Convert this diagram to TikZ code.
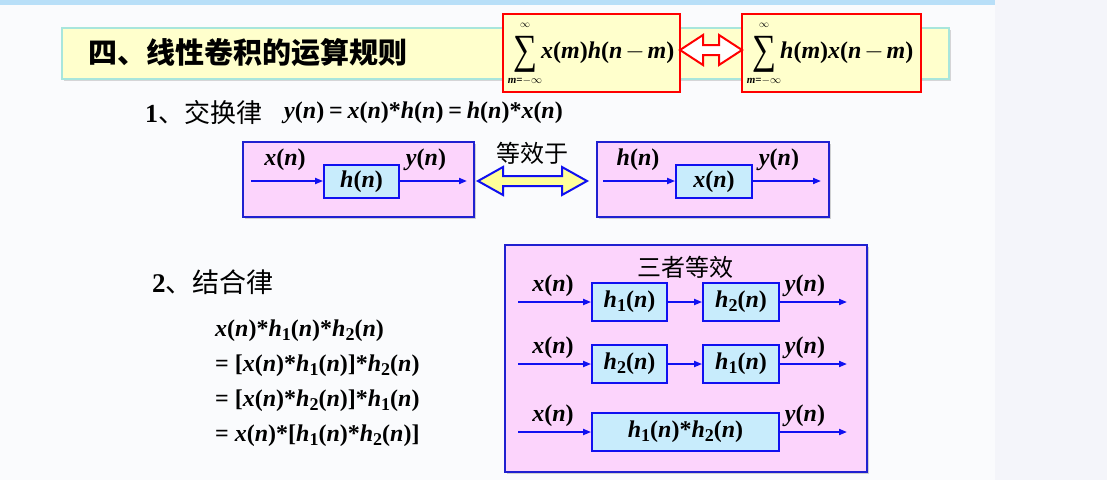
\documentclass[tikz,border=0pt]{standalone}
\usepackage{fontspec}
\setmainfont{Liberation Serif}
\newfontfamily\cjk{Noto Sans CJK SC}
\usetikzlibrary{arrows.meta,shadows}
\definecolor{slidebg}{HTML}{FAFBFD}
\definecolor{sidebg}{HTML}{F4F5FA}
\definecolor{topbar}{HTML}{B8DFF8}
\definecolor{titlefill}{HTML}{FFFFCC}
\definecolor{titleedge}{HTML}{A8E6DC}
\definecolor{pinkbg}{HTML}{FCD4FC}
\definecolor{cyanbg}{HTML}{C8ECFC}
\definecolor{boxedge}{HTML}{2020D0}
\definecolor{sigblue}{HTML}{1010F0}
\definecolor{arrowyellow}{HTML}{FFFF99}
\newcommand\iv[1]{\textit{#1}}
\newcommand\sbs[1]{\raisebox{-0.35ex}{\scalebox{0.75}{#1}}}
\newcommand\bigsum{\resizebox*{24pt}{36pt}{∑}}
\begin{document}
\begin{tikzpicture}[x=1pt,y=-1pt,
  outerbox/.style={draw=boxedge, line width=2pt, fill=pinkbg, inner sep=0pt,
     drop shadow={shadow xshift=1.5pt, shadow yshift=-1.5pt, opacity=0.35}},
  sysbox/.style={draw=sigblue, line width=1.8pt, fill=cyanbg, inner sep=0pt,
     font=\fontsize{24}{26}\selectfont\bfseries},
  redbox/.style={draw=red, line width=2.2pt, fill=titlefill, inner sep=0pt},
  fml/.style={inner sep=0pt, font=\fontsize{24}{26}\selectfont\bfseries},
  lbl/.style={inner sep=0pt, font=\fontsize{24}{26}\selectfont\bfseries},
  cjktxt/.style={inner sep=0pt, font=\fontsize{24}{26}\selectfont\cjk},
  limtxt/.style={inner sep=0pt, font=\fontsize{11}{11}\selectfont\bfseries},
  suptxt/.style={inner sep=0pt, font=\fontsize{10}{10}\selectfont},
  sig/.style={draw=sigblue, line width=1.8pt, -{Triangle[length=8pt,width=6pt]}}
]
\useasboundingbox (0,0) rectangle (1107,480);
% backgrounds
\fill[slidebg] (0,0) rectangle (995,480);
\fill[sidebg] (995,0) rectangle (1107,480);
\fill[topbar] (0,0) rectangle (995,5);

% title bar
\node[draw=titleedge, line width=1.8pt, fill=titlefill, inner sep=0pt,
      minimum width=887pt, minimum height=51pt,
      drop shadow={shadow xshift=2pt, shadow yshift=-2pt, opacity=0.3}] (titlebar) at (505.5,53.5) {};
\node[inner sep=0pt, anchor=west, font=\fontsize{29}{31}\selectfont\cjk\bfseries] (title) at (88,53) {四、线性卷积的运算规则};

% red formula boxes
\node[redbox, minimum width=177pt, minimum height=78pt] (fa) at (591.5,53) {};
\node[redbox, minimum width=179pt, minimum height=78pt] (fb) at (831.5,53) {};
% sums
\node[inner sep=0pt] (suma) at (525,54) {\bigsum};
\node[suptxt] (supa) at (525,25) {$\infty$};
\node[limtxt] (suba) at (525,81) {\iv{m}=$-\infty$};
\node[fml, anchor=west] (exa) at (541,53) {\iv{x}(\iv{m})\iv{h}(\iv{n}\hspace{0.12em}$-$\hspace{0.12em}\iv{m})};
\node[inner sep=0pt] (sumb) at (764,54) {\bigsum};
\node[suptxt] (supb) at (764,25) {$\infty$};
\node[limtxt] (subb) at (764,81) {\iv{m}=$-\infty$};
\node[fml, anchor=west] (exb) at (780,53) {\iv{h}(\iv{m})\iv{x}(\iv{n}\hspace{0.12em}$-$\hspace{0.12em}\iv{m})};
% red double arrow
\draw[red, line width=2pt, fill=white, line join=miter]
  (680,50) -- (703,35) -- (703,45) -- (719,45) -- (719,35) -- (742,50)
  -- (719,65) -- (719,55) -- (703,55) -- (703,65) -- cycle;

% section 1
\node[inner sep=0pt, anchor=west, font=\fontsize{26}{28}\selectfont] (s1) at (145,113)
  {\textbf{1}{\cjk 、交换律}};
\node[fml, anchor=west] (eq1) at (284,113)
  {\iv{y}(\iv{n})\hspace{0.2em}=\hspace{0.2em}\iv{x}(\iv{n})*\iv{h}(\iv{n})\hspace{0.2em}=\hspace{0.2em}\iv{h}(\iv{n})*\iv{x}(\iv{n})};

\node[outerbox, minimum width=231pt, minimum height=75pt] (boxL) at (358.5,179.5) {};
\node[sysbox, minimum width=75pt, minimum height=33pt] (hL) at (361.5,181.5) {\iv{h}(\iv{n})};
\coordinate (inL) at (251,181);
\coordinate (outL) at (467,181);
\draw[sig] (inL) -- (inL -| hL.west);
\draw[sig] (hL.east |- outL) -- (outL);
\node[lbl] (xL) at (285,160) {\iv{x}(\iv{n})};
\node[lbl] (yL) at (426,160) {\iv{y}(\iv{n})};

\node[cjktxt] (eqv) at (532,153) {等效于};
\draw[sigblue, line width=2pt, fill=arrowyellow, line join=miter]
  (478,181) -- (503,167) -- (503,176) -- (562,176) -- (562,167) -- (587,181)
  -- (562,195) -- (562,186) -- (503,186) -- (503,195) -- cycle;

\node[outerbox, minimum width=232pt, minimum height=75pt] (boxR) at (713,179.5) {};
\node[sysbox, minimum width=76pt, minimum height=33pt] (hR) at (714,181.5) {\iv{x}(\iv{n})};
\coordinate (inR) at (603,181);
\coordinate (outR) at (821,181);
\draw[sig] (inR) -- (inR -| hR.west);
\draw[sig] (hR.east |- outR) -- (outR);
\node[lbl] (xR) at (638,160) {\iv{h}(\iv{n})};
\node[lbl] (yR) at (779,160) {\iv{y}(\iv{n})};

% section 2
\node[inner sep=0pt, anchor=west, font=\fontsize{27}{29}\selectfont] (s2) at (152,282)
  {\textbf{2}{\cjk 、结合律}};
\node[fml, anchor=west] (a1) at (215,331) {\iv{x}(\iv{n})*\iv{h}\sbs{1}(\iv{n})*\iv{h}\sbs{2}(\iv{n})};
\node[fml, anchor=west] (a2) at (215,366) {=\hspace{0.25em}[\iv{x}(\iv{n})*\iv{h}\sbs{1}(\iv{n})]*\iv{h}\sbs{2}(\iv{n})};
\node[fml, anchor=west] (a3) at (215,401) {=\hspace{0.25em}[\iv{x}(\iv{n})*\iv{h}\sbs{2}(\iv{n})]*\iv{h}\sbs{1}(\iv{n})};
\node[fml, anchor=west] (a4) at (215,436) {=\hspace{0.25em}\iv{x}(\iv{n})*[\iv{h}\sbs{1}(\iv{n})*\iv{h}\sbs{2}(\iv{n})]};

\node[outerbox, minimum width=362pt, minimum height=227pt] (box3) at (686,358.5) {};
\node[cjktxt] (three) at (685,267) {三者等效};
% row 1
\node[sysbox, minimum width=75pt, minimum height=38pt] (r1a) at (629.5,302) {\iv{h}\sbs{1}(\iv{n})};
\node[sysbox, minimum width=76pt, minimum height=38pt] (r1b) at (741,302) {\iv{h}\sbs{2}(\iv{n})};
\coordinate (r1in) at (518,302);
\coordinate (r1out) at (847,302);
\draw[sig] (r1in) -- (r1a.west);
\draw[sig] (r1a.east) -- (r1b.west);
\draw[sig] (r1b.east) -- (r1out);
\node[lbl] (r1x) at (553,286) {\iv{x}(\iv{n})};
\node[lbl] (r1y) at (805,286) {\iv{y}(\iv{n})};
% row 2
\node[sysbox, minimum width=75pt, minimum height=38pt] (r2a) at (629.5,364) {\iv{h}\sbs{2}(\iv{n})};
\node[sysbox, minimum width=76pt, minimum height=38pt] (r2b) at (741,364) {\iv{h}\sbs{1}(\iv{n})};
\coordinate (r2in) at (518,364);
\coordinate (r2out) at (847,364);
\draw[sig] (r2in) -- (r2a.west);
\draw[sig] (r2a.east) -- (r2b.west);
\draw[sig] (r2b.east) -- (r2out);
\node[lbl] (r2x) at (553,348) {\iv{x}(\iv{n})};
\node[lbl] (r2y) at (805,348) {\iv{y}(\iv{n})};
% row 3
\node[sysbox, minimum width=187pt, minimum height=38pt] (r3) at (685.5,432) {\iv{h}\sbs{1}(\iv{n})*\iv{h}\sbs{2}(\iv{n})};
\coordinate (r3in) at (518,432);
\coordinate (r3out) at (847,432);
\draw[sig] (r3in) -- (r3.west);
\draw[sig] (r3.east) -- (r3out);
\node[lbl] (r3x) at (553,416) {\iv{x}(\iv{n})};
\node[lbl] (r3y) at (805,416) {\iv{y}(\iv{n})};
\end{tikzpicture}
\end{document}
